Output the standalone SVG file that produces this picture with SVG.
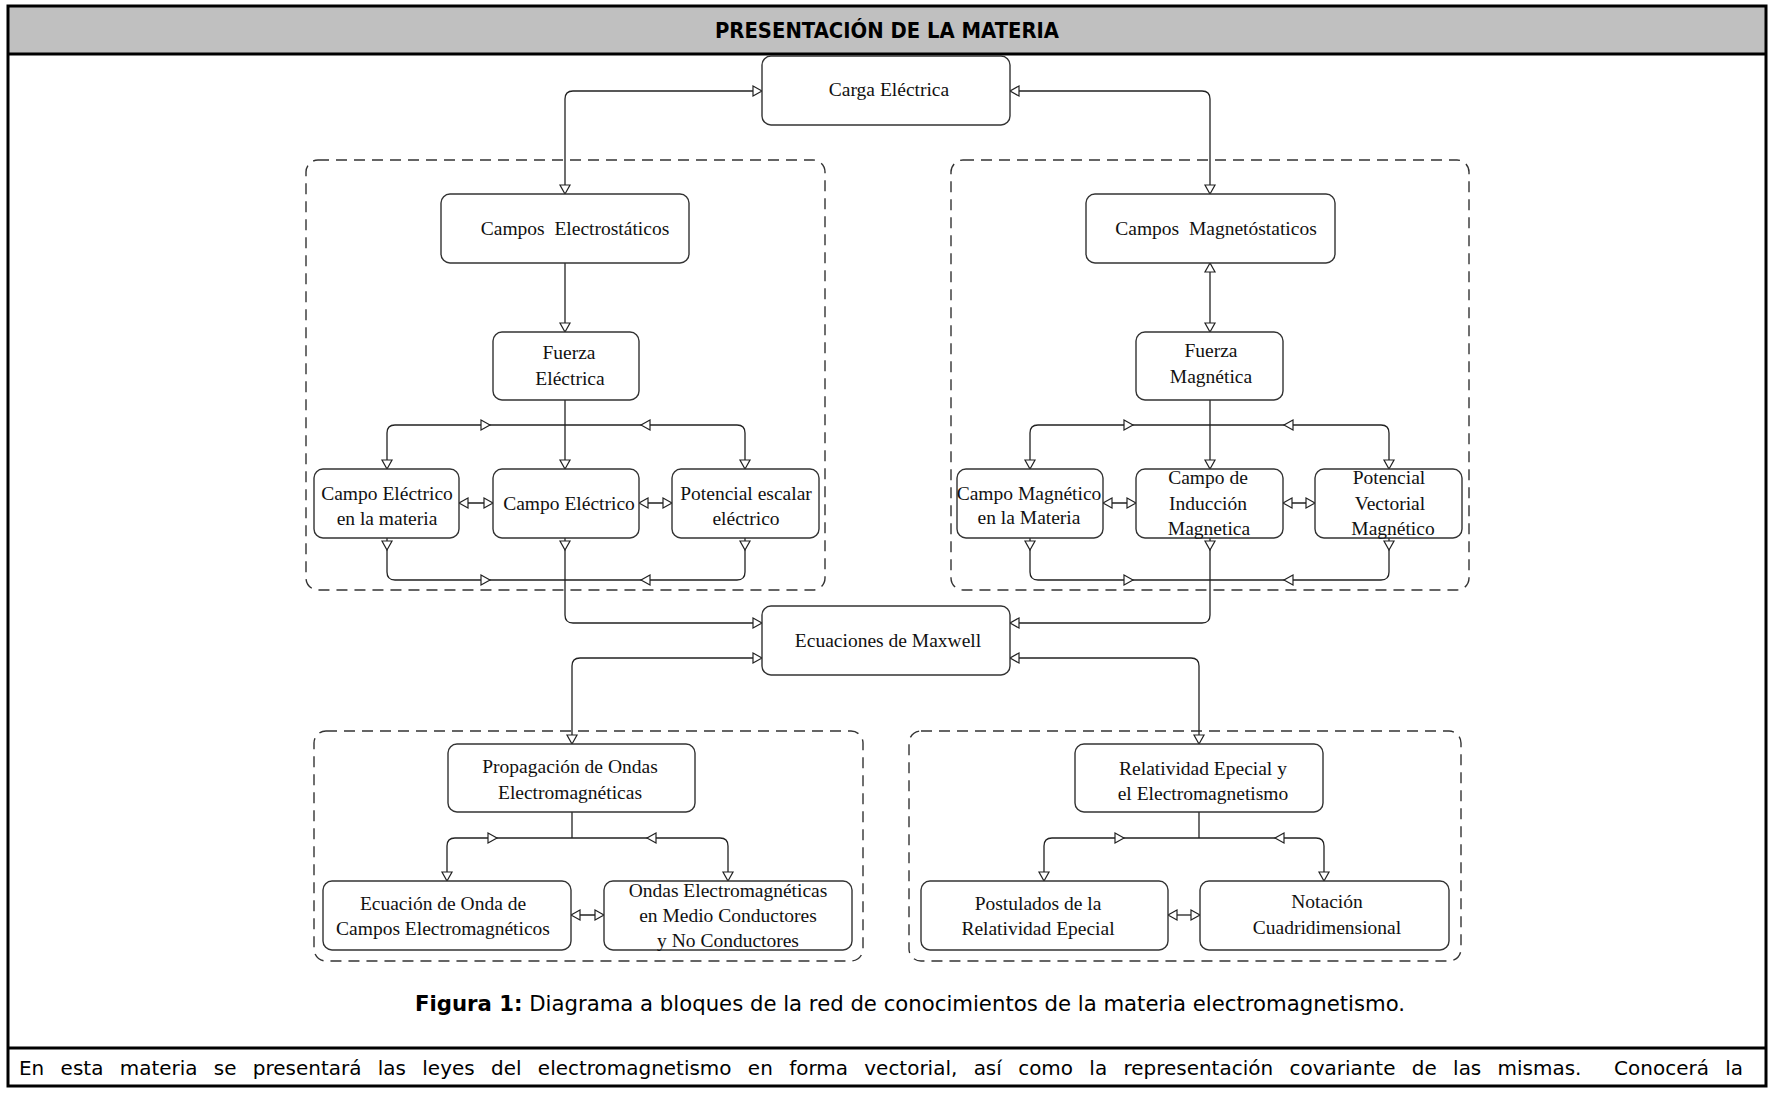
<svg xmlns="http://www.w3.org/2000/svg" xmlns:xlink="http://www.w3.org/1999/xlink" width="1769" height="1097" viewBox="0 0 1769 1097">
<style>
  .frame { fill: none; stroke: #000; stroke-width: 3; }
  .hdr { fill: #c0c0c0; }
  .box { fill: #fff; stroke: #333; stroke-width: 1.4; }
  .grp { fill: none; stroke: #333; stroke-width: 1.4; stroke-dasharray: 11 7; }
  .ln { fill: none; stroke: #222; stroke-width: 1.3; }
  .lbl { font-family: "Liberation Serif", "Times New Roman", serif; font-size: 19.5px; fill: #111; text-anchor: middle; }
  .sans { font-family: "DejaVu Sans", "Liberation Sans", sans-serif; fill: #000; }
  .ah { fill: #fff; stroke: #222; stroke-width: 1.2; }
</style>
<defs>
  <path id="ah" class="ah" d="M0,0 L-9,-5 L-9,5 Z"/>
</defs>

<!-- page frame -->
<rect class="hdr" x="8" y="6" width="1758" height="48"/>
<path class="frame" d="M8,6 H1766 V1086 H8 Z M8,54 H1766 M8,1048 H1766"/>
<text class="sans" x="887" y="38" font-size="20.5" font-weight="bold" text-anchor="middle" textLength="344" lengthAdjust="spacingAndGlyphs">PRESENTACIÓN DE LA MATERIA</text>

<!-- dashed groups -->
<g id="group-electrostatica"><rect class="grp" x="306" y="160" width="519" height="430" rx="12"/></g>
<g id="group-magnetostatica"><rect class="grp" x="951" y="160" width="518" height="430" rx="12"/></g>
<g id="group-ondas"><rect class="grp" x="314" y="731" width="549" height="230" rx="12"/></g>
<g id="group-relatividad"><rect class="grp" x="909" y="731" width="552" height="230" rx="12"/></g>

<!-- connectors -->
<g id="connectors">
  <path class="ln" d="M762,91 H573 Q565,91 565,99 V194"/>
  <path class="ln" d="M1010,91 H1202 Q1210,91 1210,99 V194"/>
  <path class="ln" d="M565,263 V332"/>
  <path class="ln" d="M1210,263 V332"/>
  <!-- left branch -->
  <path class="ln" d="M565,400 V469"/>
  <path class="ln" d="M387,469 V433 Q387,425 395,425 H737 Q745,425 745,433 V469"/>
  <path class="ln" d="M387,538 V572 Q387,580 395,580 H737 Q745,580 745,572 V538"/>
  <path class="ln" d="M565,538 V615 Q565,623 573,623 H762"/>
  <path class="ln" d="M459,503 H493 M639,503 H672"/>
  <!-- right branch -->
  <path class="ln" d="M1210,400 V469"/>
  <path class="ln" d="M1030,469 V433 Q1030,425 1038,425 H1381 Q1389,425 1389,433 V469"/>
  <path class="ln" d="M1030,538 V572 Q1030,580 1038,580 H1381 Q1389,580 1389,572 V538"/>
  <path class="ln" d="M1210,538 V615 Q1210,623 1202,623 H1010"/>
  <path class="ln" d="M1103,503 H1136 M1283,503 H1315"/>
  <!-- maxwell outputs -->
  <path class="ln" d="M762,658 H580 Q572,658 572,666 V744"/>
  <path class="ln" d="M1010,658 H1191 Q1199,658 1199,666 V744"/>
  <!-- bottom left branch -->
  <path class="ln" d="M572,812 V838"/>
  <path class="ln" d="M447,881 V846 Q447,838 455,838 H720 Q728,838 728,846 V881"/>
  <path class="ln" d="M571,915 H604"/>
  <!-- bottom right branch -->
  <path class="ln" d="M1199,812 V838"/>
  <path class="ln" d="M1044,881 V846 Q1044,838 1052,838 H1316 Q1324,838 1324,846 V881"/>
  <path class="ln" d="M1168,915 H1200"/>

  <!-- arrowheads -->
  <use href="#ah" transform="translate(762,91)"/>
  <use href="#ah" transform="translate(565,194) rotate(90)"/>
  <use href="#ah" transform="translate(1010,91) rotate(180)"/>
  <use href="#ah" transform="translate(1210,194) rotate(90)"/>
  <use href="#ah" transform="translate(565,332) rotate(90)"/>
  <use href="#ah" transform="translate(1210,263) rotate(-90)"/>
  <use href="#ah" transform="translate(1210,332) rotate(90)"/>

  <use href="#ah" transform="translate(565,469) rotate(90)"/>
  <use href="#ah" transform="translate(387,469) rotate(90)"/>
  <use href="#ah" transform="translate(745,469) rotate(90)"/>
  <use href="#ah" transform="translate(490,425)"/>
  <use href="#ah" transform="translate(641,425) rotate(180)"/>
  <use href="#ah" transform="translate(387,550) rotate(90)"/>
  <use href="#ah" transform="translate(565,550) rotate(90)"/>
  <use href="#ah" transform="translate(745,550) rotate(90)"/>
  <use href="#ah" transform="translate(490,580)"/>
  <use href="#ah" transform="translate(641,580) rotate(180)"/>
  <use href="#ah" transform="translate(762,623)"/>
  <use href="#ah" transform="translate(459,503) rotate(180)"/>
  <use href="#ah" transform="translate(493,503)"/>
  <use href="#ah" transform="translate(639,503) rotate(180)"/>
  <use href="#ah" transform="translate(672,503)"/>

  <use href="#ah" transform="translate(1210,469) rotate(90)"/>
  <use href="#ah" transform="translate(1030,469) rotate(90)"/>
  <use href="#ah" transform="translate(1389,469) rotate(90)"/>
  <use href="#ah" transform="translate(1133,425)"/>
  <use href="#ah" transform="translate(1284,425) rotate(180)"/>
  <use href="#ah" transform="translate(1030,550) rotate(90)"/>
  <use href="#ah" transform="translate(1210,550) rotate(90)"/>
  <use href="#ah" transform="translate(1389,550) rotate(90)"/>
  <use href="#ah" transform="translate(1133,580)"/>
  <use href="#ah" transform="translate(1284,580) rotate(180)"/>
  <use href="#ah" transform="translate(1010,623) rotate(180)"/>
  <use href="#ah" transform="translate(1103,503) rotate(180)"/>
  <use href="#ah" transform="translate(1136,503)"/>
  <use href="#ah" transform="translate(1283,503) rotate(180)"/>
  <use href="#ah" transform="translate(1315,503)"/>

  <use href="#ah" transform="translate(762,658)"/>
  <use href="#ah" transform="translate(572,744) rotate(90)"/>
  <use href="#ah" transform="translate(1010,658) rotate(180)"/>
  <use href="#ah" transform="translate(1199,744) rotate(90)"/>

  <use href="#ah" transform="translate(447,881) rotate(90)"/>
  <use href="#ah" transform="translate(728,881) rotate(90)"/>
  <use href="#ah" transform="translate(497,838)"/>
  <use href="#ah" transform="translate(647,838) rotate(180)"/>
  <use href="#ah" transform="translate(571,915) rotate(180)"/>
  <use href="#ah" transform="translate(604,915)"/>

  <use href="#ah" transform="translate(1044,881) rotate(90)"/>
  <use href="#ah" transform="translate(1324,881) rotate(90)"/>
  <use href="#ah" transform="translate(1124,838)"/>
  <use href="#ah" transform="translate(1275,838) rotate(180)"/>
  <use href="#ah" transform="translate(1168,915) rotate(180)"/>
  <use href="#ah" transform="translate(1200,915)"/>
</g>

<!-- nodes -->
<g id="carga-electrica">
  <rect class="box" x="762" y="56" width="248" height="69" rx="9"/>
  <text class="lbl" x="889" y="96">Carga Eléctrica</text>
</g>
<g id="campos-electrostaticos">
  <rect class="box" x="441" y="194" width="248" height="69" rx="9"/>
  <text class="lbl" x="575" y="235" xml:space="preserve">Campos  Electrostáticos</text>
</g>
<g id="fuerza-electrica">
  <rect class="box" x="493" y="332" width="146" height="68" rx="9"/>
  <text class="lbl"><tspan x="569" y="359">Fuerza</tspan><tspan x="570" y="385">Eléctrica</tspan></text>
</g>
<g id="campo-electrico-materia">
  <rect class="box" x="314" y="469" width="145" height="69" rx="9"/>
  <text class="lbl"><tspan x="387" y="500">Campo Eléctrico</tspan><tspan x="387" y="525">en la materia</tspan></text>
</g>
<g id="campo-electrico">
  <rect class="box" x="493" y="469" width="146" height="69" rx="9"/>
  <text class="lbl" x="569" y="510">Campo Eléctrico</text>
</g>
<g id="potencial-escalar">
  <rect class="box" x="672" y="469" width="147" height="69" rx="9"/>
  <text class="lbl"><tspan x="746" y="500">Potencial escalar</tspan><tspan x="746" y="525">eléctrico</tspan></text>
</g>

<g id="campos-magnetostaticos">
  <rect class="box" x="1086" y="194" width="249" height="69" rx="9"/>
  <text class="lbl" x="1216" y="235" xml:space="preserve">Campos  Magnetóstaticos</text>
</g>
<g id="fuerza-magnetica">
  <rect class="box" x="1136" y="332" width="147" height="68" rx="9"/>
  <text class="lbl"><tspan x="1211" y="357">Fuerza</tspan><tspan x="1211" y="383">Magnética</tspan></text>
</g>
<g id="campo-magnetico-materia">
  <rect class="box" x="957" y="469" width="146" height="69" rx="9"/>
  <text class="lbl"><tspan x="1029" y="500">Campo Magnético</tspan><tspan x="1029" y="524">en la Materia</tspan></text>
</g>
<g id="campo-induccion">
  <rect class="box" x="1136" y="469" width="147" height="69" rx="9"/>
  <text class="lbl"><tspan x="1208" y="484">Campo de</tspan><tspan x="1208" y="510">Inducción</tspan><tspan x="1209" y="535">Magnetica</tspan></text>
</g>
<g id="potencial-vectorial">
  <rect class="box" x="1315" y="469" width="147" height="69" rx="9"/>
  <text class="lbl"><tspan x="1389" y="484">Potencial</tspan><tspan x="1390" y="510">Vectorial</tspan><tspan x="1393" y="535">Magnético</tspan></text>
</g>

<g id="ecuaciones-maxwell">
  <rect class="box" x="762" y="606" width="248" height="69" rx="9"/>
  <text class="lbl" x="888" y="647">Ecuaciones de Maxwell</text>
</g>

<g id="propagacion-ondas">
  <rect class="box" x="448" y="744" width="247" height="68" rx="9"/>
  <text class="lbl"><tspan x="570" y="773">Propagación de Ondas</tspan><tspan x="570" y="799">Electromagnéticas</tspan></text>
</g>
<g id="ecuacion-onda">
  <rect class="box" x="323" y="881" width="248" height="69" rx="9"/>
  <text class="lbl"><tspan x="443" y="910">Ecuación de Onda de</tspan><tspan x="443" y="935">Campos Electromagnéticos</tspan></text>
</g>
<g id="ondas-medios">
  <rect class="box" x="604" y="881" width="248" height="69" rx="9"/>
  <text class="lbl"><tspan x="728" y="897">Ondas Electromagnéticas</tspan><tspan x="728" y="922">en Medio Conductores</tspan><tspan x="728" y="947">y No Conductores</tspan></text>
</g>

<g id="relatividad-electromagnetismo">
  <rect class="box" x="1075" y="744" width="248" height="68" rx="9"/>
  <text class="lbl"><tspan x="1203" y="775">Relatividad Epecial y</tspan><tspan x="1203" y="800">el Electromagnetismo</tspan></text>
</g>
<g id="postulados-relatividad">
  <rect class="box" x="921" y="881" width="247" height="69" rx="9"/>
  <text class="lbl"><tspan x="1038" y="910">Postulados de la</tspan><tspan x="1038" y="935">Relatividad Epecial</tspan></text>
</g>
<g id="notacion-cuadridimensional">
  <rect class="box" x="1200" y="881" width="249" height="69" rx="9"/>
  <text class="lbl"><tspan x="1327" y="908">Notación</tspan><tspan x="1327" y="934">Cuadridimensional</tspan></text>
</g>

<!-- caption and body text -->
<text class="sans" x="415" y="1011" font-size="20.5" textLength="990" lengthAdjust="spacingAndGlyphs"><tspan font-weight="bold">Figura 1:</tspan> Diagrama a bloques de la red de conocimientos de la materia electromagnetismo.</text>
<text class="sans" x="19" y="1075" font-size="20" word-spacing="10" textLength="1724" lengthAdjust="spacingAndGlyphs" xml:space="preserve">En esta materia se presentará las leyes del electromagnetismo en forma vectorial, así como la representación covariante de las mismas.  Conocerá la</text>
</svg>
